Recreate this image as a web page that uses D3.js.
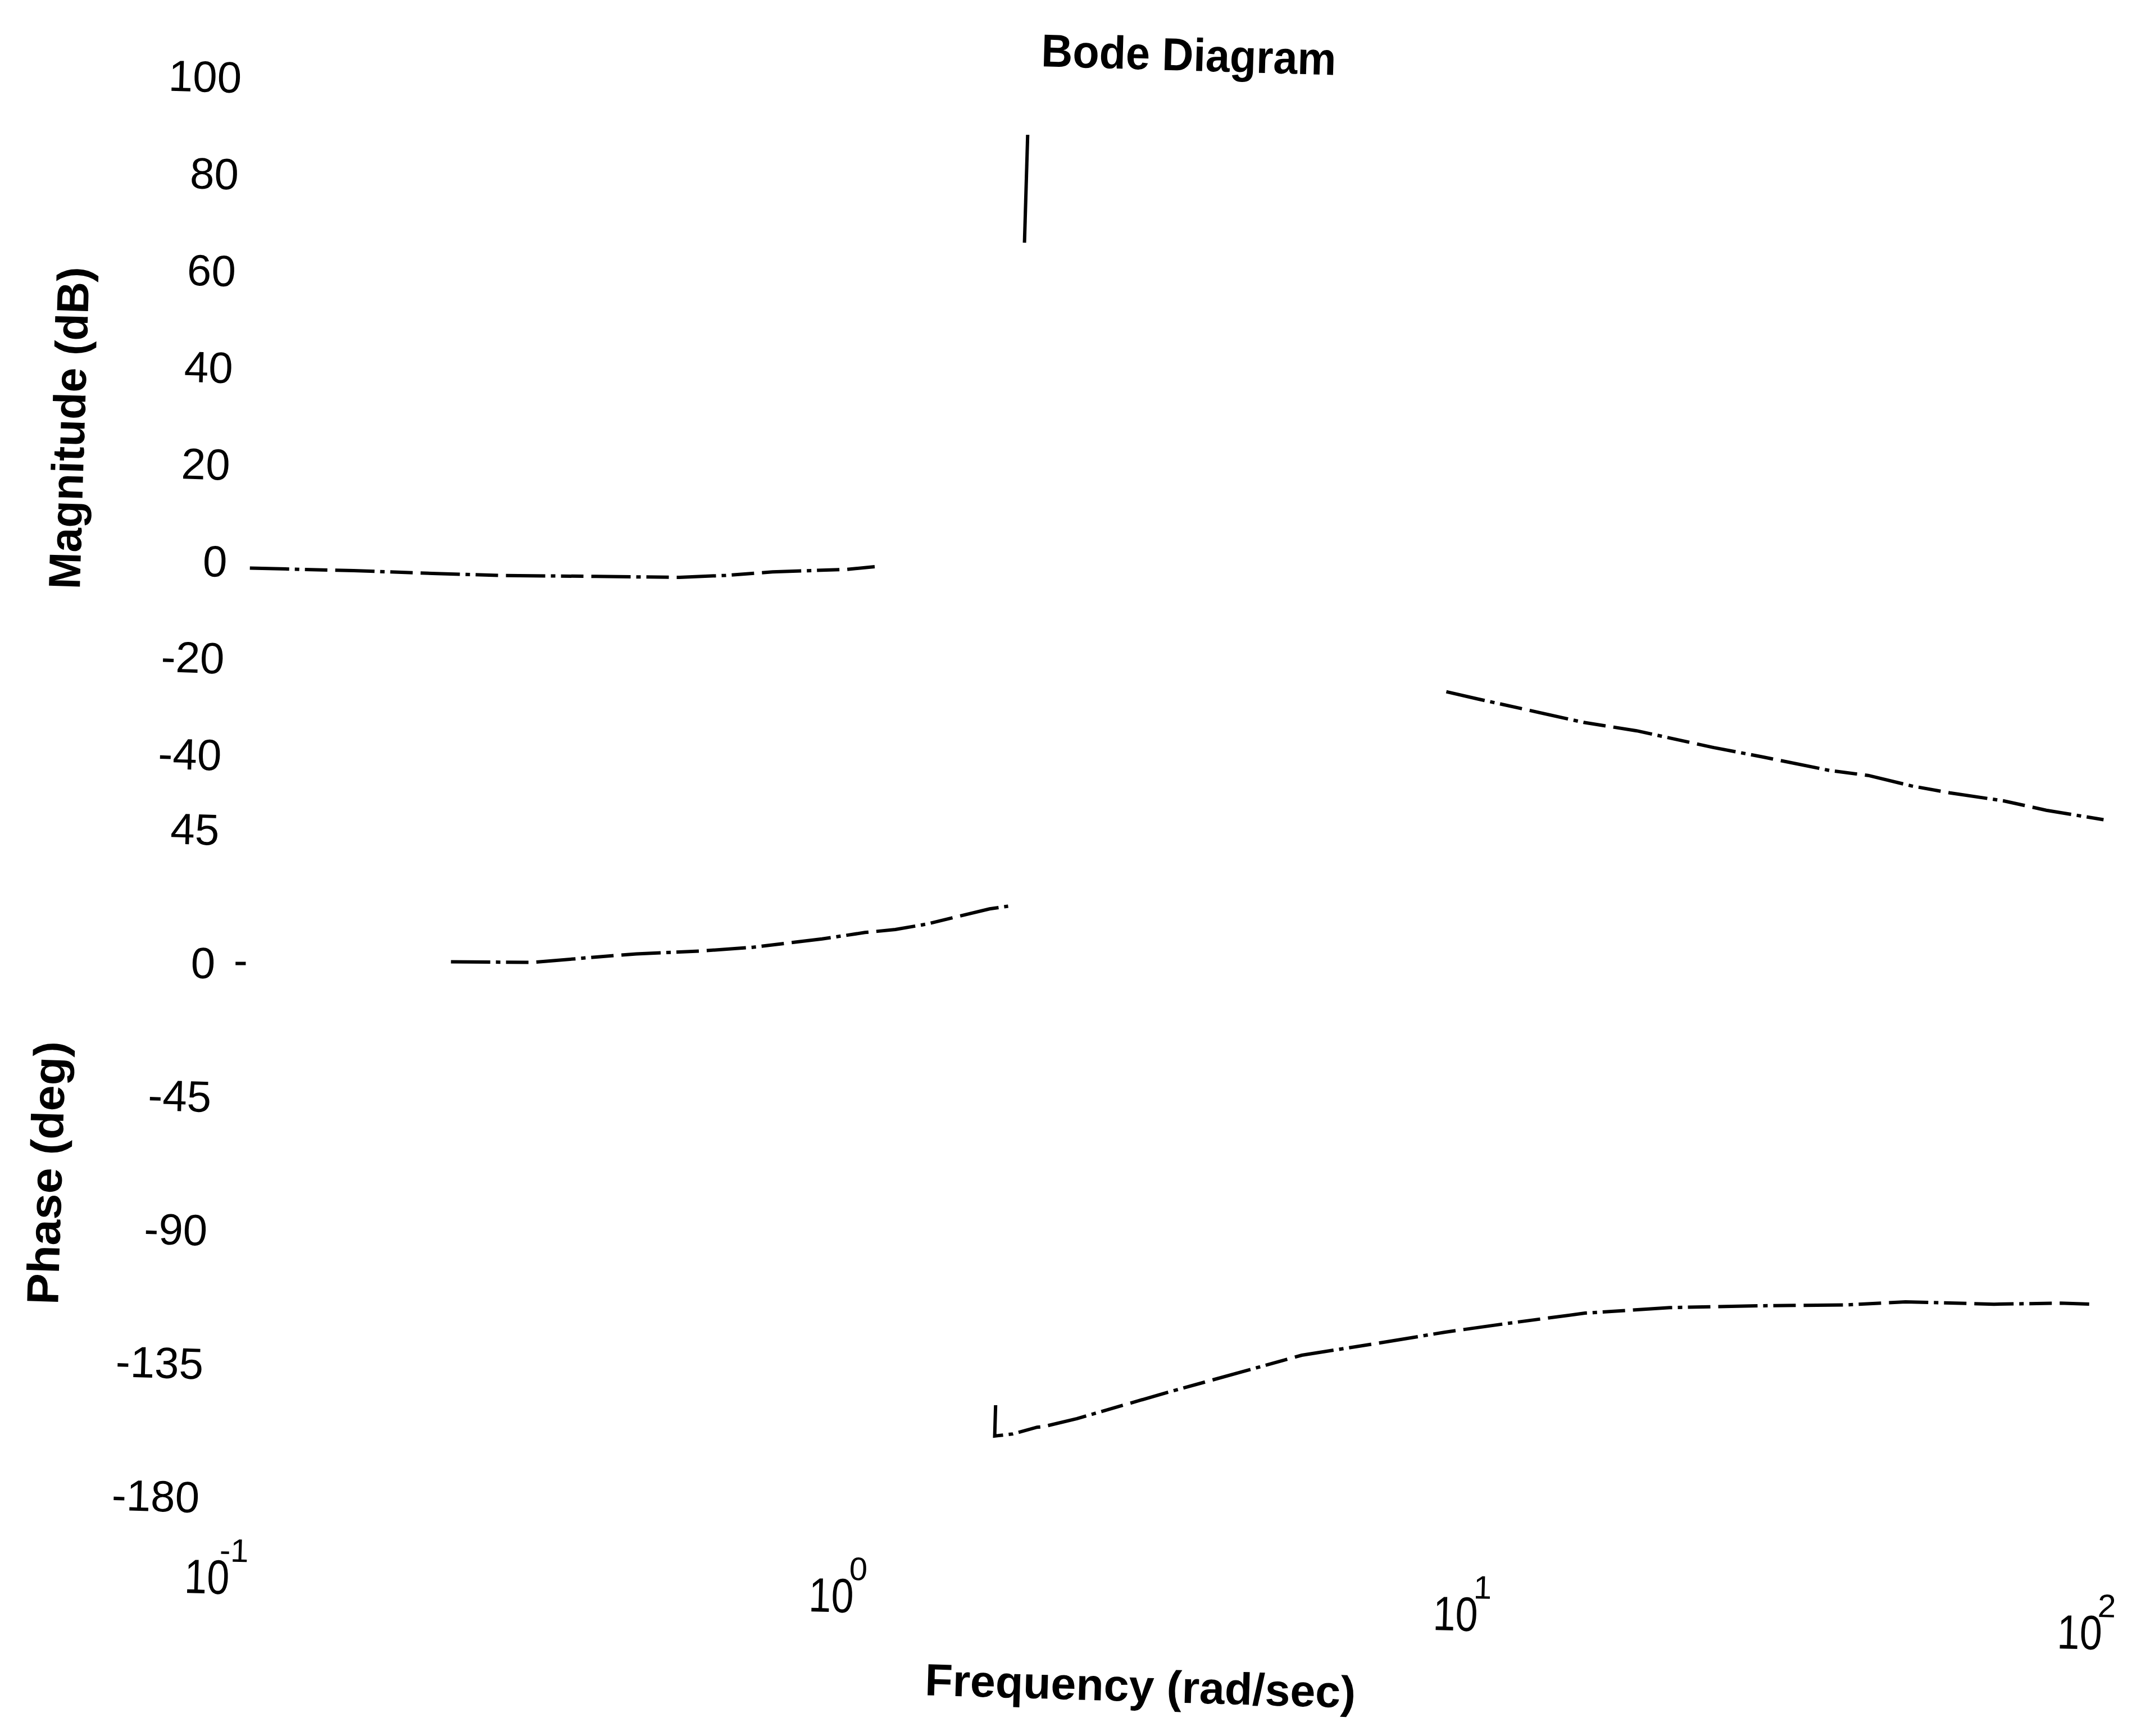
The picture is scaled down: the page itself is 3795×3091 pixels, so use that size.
<!DOCTYPE html>
<html>
<head>
<meta charset="utf-8">
<script src="https://cdnjs.cloudflare.com/ajax/libs/d3/7.8.5/d3.min.js"></script>
<style>
  body { margin: 0; background: #fff; }
  text { font-family: "Liberation Sans", Arial, Helvetica, sans-serif; fill: #000; }
</style>
</head>
<body>
<div id="bode-chart"></div>
<script>
// values; null = the trace is lost there
var magW  = [0.105, 0.154, 0.209, 0.267, 0.376, 0.512, 0.607, 0.721, 0.949, 1.05, 1.3,
             1.76, 1.76, 3.0,
             8.75, 9.83, 11.75, 14.57, 17.72, 23.6, 28.2, 36.2, 41.8, 49.1, 56.6, 68.9, 80.9, 100];
var magDb = [-1.0, -0.9, -1.0, -1.0, -0.6, -0.3, 0.4, 1.4, 2.4, 3.1, null,
             93.2, 70.9, null,
             -19.2, -20.5, -22.4, -24.7, -26.1, -29.1, -30.7, -33.1, -33.9, -35.8, -37.0, -38.3, -40.0, -41.6];

var phaseW   = [0.104, 0.108, 0.15, 0.23, 0.311, 0.398, 0.455, 0.576, 0.698, 0.901, 1.054, 1.179, 1.319, 1.665, 1.782, 1.79,
                1.797, 1.797, 1.921, 2.099, 2.152, 2.43, 3.353, 4.452, 5.523, 7.43, 9.34, 11.77, 15.61, 21.32, 29.5,
                40.9, 50.8, 70.4, 89.9, 100];
var phaseDeg = [0.5, 0.6, null, 3.2, 3.8, 6.4, 7.7, 9.3, 11.1, 14.6, 17.2, 18.5, 20.6, 26.4, 27.5, null,
                -140.7, -151.1, -150.2, -147.7, -147.4, -144.4, -134.9, -126.9, -120.8, -115.7, -111.6, -108.0, -103.8, -101.1, -99.6,
                -98.4, -96.8, -96.7, -95.7, -95.7];

var magTicks = [100, 80, 60, 40, 20, 0, -20, -40];
var phaseTicks = [45, 0, -45, -90, -135, -180];
var freqTicks = [0.1, 1, 10, 100];
var freqExps = ["-1", "0", "1", "2"];

var width = 3795,
    height = 3091,
    tilt = 1.7,  // the scanned page sits a little askew
    line_width = 6,
    dashes = "70,10,8,10,40,14";

var svg = d3.select("#bode-chart").append("svg")
        .attr("width", width)
        .attr("height", height)
        .style("background", "#fff")
      .append("g")
        .attr("transform", "rotate(" + tilt + "," + width / 2 + "," + height / 2 + ")");

var xScale = d3.scaleLog().domain([0.1, 100]).range([406, 3741]);
var magScale = d3.scaleLinear().domain([-40, 100]).range([1391, 184]);
var phaseScale = d3.scaleLinear().domain([-180, 45]).range([2713, 1524]);

// split a trace into the pieces that survived, gaps at null
function segments(xs, ys) {
    var segs = [], cur = [];
    xs.forEach(function(x, i) {
        if (ys[i] == null) {
            if (cur.length) segs.push(cur);
            cur = [];
        } else {
            cur.push({x: x, y: ys[i]});
        }
    });
    if (cur.length) segs.push(cur);
    return segs;
}

function traceLine(yScale) {
    return d3.line()
        .x(function(d) { return xScale(d.x); })
        .y(function(d) { return yScale(d.y); });
}

function drawTrace(cls, xs, ys, yScale) {
    var line = traceLine(yScale);
    svg.selectAll(".line." + cls)
        .data(segments(xs, ys))
      .enter().append("path")
        .attr("class", "line " + cls)
        .attr("d", line)
        .attr("fill", "none")
        .attr("stroke", "#000")
        .attr("stroke-width", line_width)
        // the near-vertical resonance stroke shows solid in the scan
        .attr("stroke-dasharray", function(d) {
            return d.length === 2 && d[0].x === d[1].x ? null : dashes;
        });
}

// y axes: labels only, the frame did not survive the scan
function yAxis(scale, ticks) {
    return function(g) {
        g.call(d3.axisLeft(scale)
                .tickValues(ticks)
                .tickSize(0)
                .tickPadding(0)
                .tickFormat(function(d) { return String(d); }))
            .attr("font-size", 78);
        g.select(".domain").remove();
    };
}

svg.append("g")
    .attr("class", "y axis mag")
    .attr("transform", "translate(389,0)")
    .call(yAxis(magScale, magTicks));

svg.append("g")
    .attr("class", "y axis phase")
    .attr("transform", "translate(389,0)")
    .call(yAxis(phaseScale, phaseTicks));

var x_axis_elem = svg.append("g")
    .attr("class", "x axis")
    .attr("transform", "translate(0,2882)")
    .call(d3.axisBottom(xScale).tickValues(freqTicks).tickSize(0).tickFormat(function() { return ""; }));
x_axis_elem.select(".domain").remove();

x_axis_elem.selectAll(".tick").each(function(d, i) {
    var tick = d3.select(this);
    tick.select("text").remove();
    tick.append("text")
        .attr("text-anchor", "middle")
        .attr("font-size", 86)
        .attr("textLength", 80)
        .attr("lengthAdjust", "spacingAndGlyphs")
        .text("10");
    tick.append("text")
        .attr("x", 47)
        .attr("y", -58)
        .attr("font-size", 58)
        .text(freqExps[i]);
});

drawTrace("magnitude", magW, magDb, magScale);
drawTrace("phase", phaseW, phaseDeg, phaseScale);

svg.append("text")
    .attr("x", 2073)
    .attr("y", 120)
    .attr("text-anchor", "middle")
    .attr("font-size", 82)
    .attr("font-weight", "bold")
    .attr("textLength", 525)
    .attr("lengthAdjust", "spacingAndGlyphs")
    .text("Bode Diagram");

svg.append("text")
    .attr("x", 2073)
    .attr("y", 3025)
    .attr("text-anchor", "middle")
    .attr("font-size", 80)
    .attr("font-weight", "bold")
    .attr("textLength", 767)
    .attr("lengthAdjust", "spacingAndGlyphs")
    .text("Frequency (rad/sec)");

svg.append("text")
    .attr("transform", "translate(100,815) rotate(-90)")
    .attr("dy", ".35em")
    .attr("text-anchor", "middle")
    .attr("font-size", 80)
    .attr("font-weight", "bold")
    .attr("textLength", 574)
    .attr("lengthAdjust", "spacingAndGlyphs")
    .text("Magnitude (dB)");

svg.append("text")
    .attr("transform", "translate(99,2142) rotate(-90)")
    .attr("dy", ".35em")
    .attr("text-anchor", "middle")
    .attr("font-size", 80)
    .attr("font-weight", "bold")
    .attr("textLength", 469)
    .attr("lengthAdjust", "spacingAndGlyphs")
    .text("Phase (deg)");
</script>
</body>
</html>
